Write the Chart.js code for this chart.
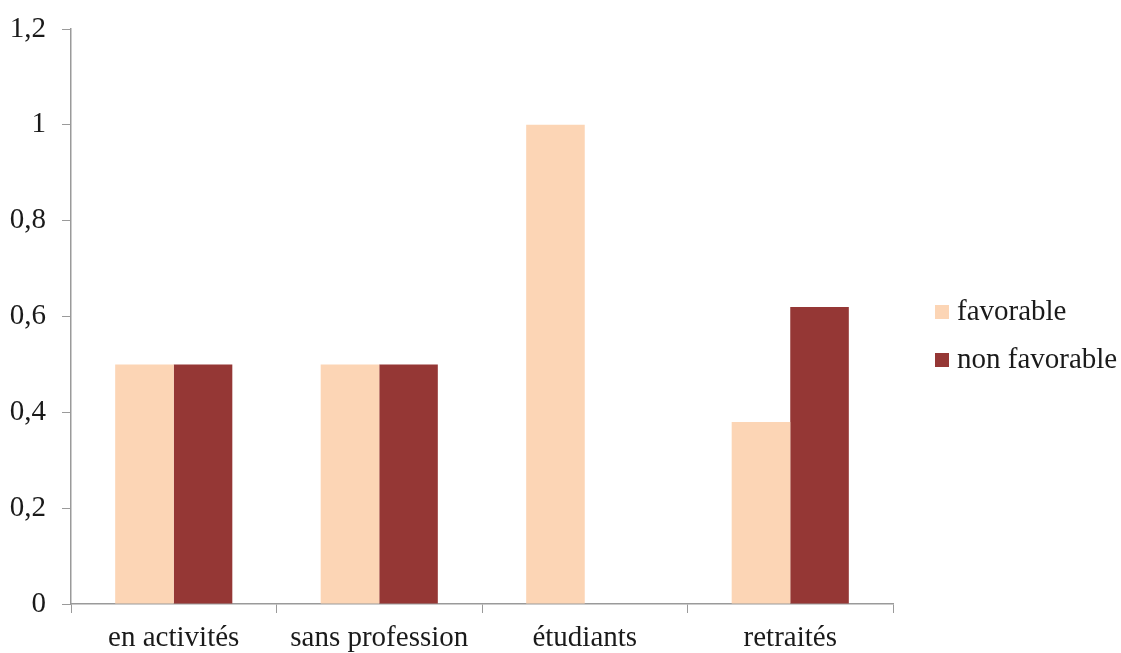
<!DOCTYPE html>
<html>
<head>
<meta charset="utf-8">
<script src="https://cdn.jsdelivr.net/npm/chart.js@4/dist/chart.umd.min.js"></script>
<style>
  html, body { margin: 0; padding: 0; background: #fff; }
  #wrap { width: 1121px; height: 653px; }
</style>
</head>
<body>
<div id="wrap"><canvas id="chart" width="1121" height="653"></canvas></div>
<script>
var categories = ['en activités', 'sans profession', 'étudiants', 'retraités'];
var favorable = [0.5, 0.5, 1, 0.38];
var nonFavorable = [0.5, 0.5, 0, 0.62];
var seriesNames = ['favorable', 'non favorable'];
var seriesColors = ['#FCD5B5', '#953735'];

var FONT = '"Liberation Serif", "Times New Roman", serif';

// legend drawn by hand on the right, like the original
var sideLegend = {
  id: 'sideLegend',
  afterDraw: function(chart) {
    var ctx = chart.ctx;
    ctx.save();
    ctx.font = '29px ' + FONT;
    ctx.textBaseline = 'middle';
    ctx.textAlign = 'left';
    chart.data.datasets.forEach(function(ds, i) {
      var y = 312 + i * 48;
      ctx.fillStyle = ds.backgroundColor;
      ctx.fillRect(935, y - 7, 14, 14);
      ctx.fillStyle = '#1a1a1a';
      ctx.fillText(ds.label, 957, y);
    });
    ctx.restore();
  }
};

function frNum(v) {
  return String(Math.round(v * 10) / 10).replace('.', ',');
}

new Chart(document.getElementById('chart'), {
  type: 'bar',
  data: {
    labels: categories,
    datasets: [{
      label: seriesNames[0],
      data: favorable,
      backgroundColor: seriesColors[0]
    }, {
      label: seriesNames[1],
      data: nonFavorable,
      backgroundColor: seriesColors[1]
    }]
  },
  options: {
    responsive: false,
    animation: false,
    layout: { padding: { left: 0, right: 228, top: 0, bottom: 0 } },
    datasets: { bar: { categoryPercentage: 0.57, barPercentage: 1 } },
    plugins: { legend: { display: false }, tooltip: { enabled: false } },
    scales: {
      x: {
        afterFit: function(s) { s.height = 49; },
        grid: { drawOnChartArea: false, tickLength: 9, color: '#9a9a9a', offset: true },
        border: { color: '#9a9a9a', width: 1.5 },
        ticks: { font: { family: FONT, size: 29 }, color: '#1a1a1a', padding: 8 }
      },
      y: {
        min: 0,
        max: 1.2,
        afterFit: function(s) { s.width = 71; s.paddingTop = 29; },
        grid: { drawOnChartArea: false, tickLength: 9, color: '#9a9a9a' },
        border: { color: '#9a9a9a', width: 1.5 },
        ticks: {
          stepSize: 0.2,
          font: { family: FONT, size: 29 },
          color: '#1a1a1a',
          padding: 16,
          callback: function(v) { return frNum(v); }
        }
      }
    }
  },
  plugins: [sideLegend]
});
</script>
</body>
</html>
